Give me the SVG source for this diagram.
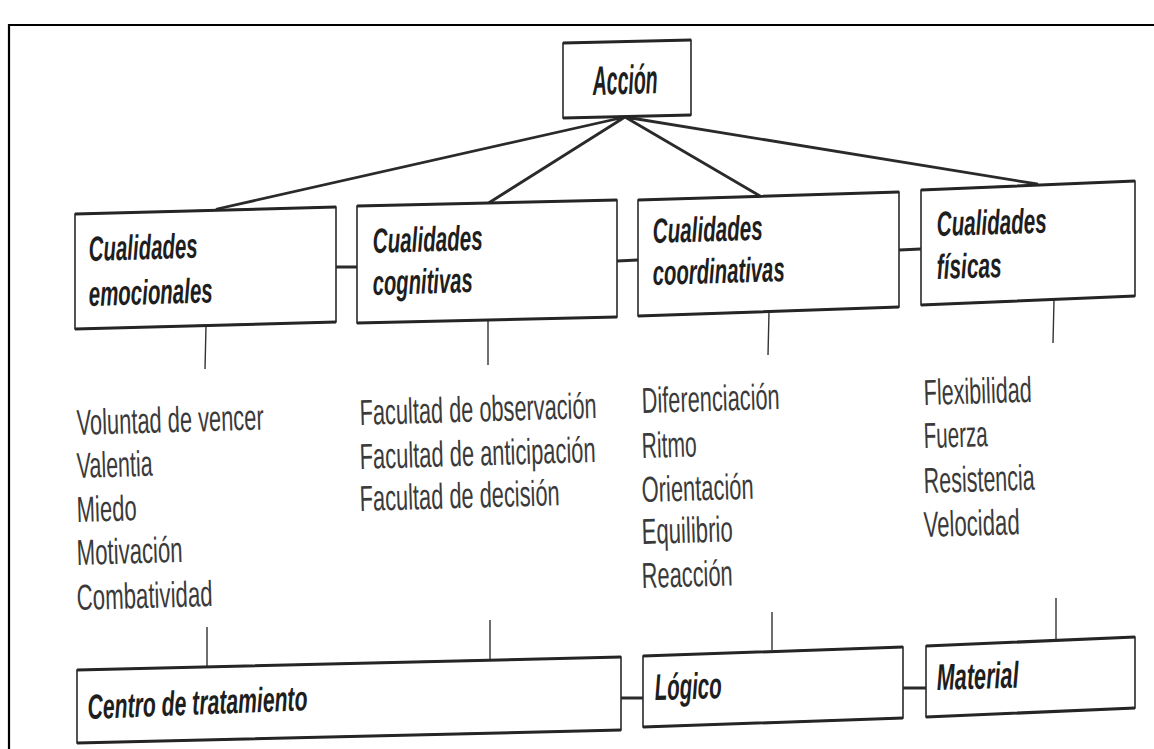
<svg xmlns="http://www.w3.org/2000/svg" width="1154" height="749" viewBox="0 0 1154 749">
<style>
.bx{fill:#fff;stroke:#2a2a2a;stroke-width:1.6}
.ed{stroke:#252525;stroke-width:3;fill:none}
.h{font-family:"Liberation Sans Narrow","Liberation Sans",Arial,sans-serif;font-weight:bold;font-style:italic;fill:#1e1e1e}
.t{font-family:"Liberation Sans Narrow","Liberation Sans",Arial,sans-serif;fill:#3a3a3a;font-size:36px}
.c{stroke:#2a2a2a;stroke-width:2.8;fill:none;stroke-linecap:round}
.v{stroke:#333;stroke-width:1.4;fill:none}
</style>
<rect width="1154" height="749" fill="#fff"/>
<path d="M9 749 V25 H1154" fill="none" stroke="#000" stroke-width="2.2"/>

<g id="connectors">
<path class="c" d="M625 117 L217 209 M625 117 L487 204 M625 117 L760 196 M625 117 L1037 184"/>
<path class="c" d="M336 267 H357 M617 261 L638 260 M899 250 L921 249"/>
<path class="c" d="M621 698 H643 M903 688 H926"/>
<path class="v" d="M206 326 L205 369 M488 320 L488 365 M769 312 L768 355 M1054 300 L1053 343"/>
<path class="v" d="M207 627 V669 M490 620 V659 M772 612 V650 M1056 598 V640"/>
</g>

<g id="accion">
<polygon class="bx" points="563,43 691,40 691,115 563,118"/>
<path class="ed" d="M563 43 L691 40 M563 118 L691 115"/>
<text class="h" x="593" y="95" font-size="41" textLength="65" lengthAdjust="spacingAndGlyphs" transform="rotate(-1.7 593 95)">Acción</text>
</g>

<g id="emocionales">
<polygon class="bx" points="75,214 336,207 336,322 75,329"/>
<path class="ed" d="M75 214 L336 207 M75 329 L336 322"/>
<text class="h" x="89" y="261" font-size="35" textLength="109" lengthAdjust="spacingAndGlyphs" transform="rotate(-1.7 89 261)">Cualidades</text>
<text class="h" x="89" y="306" font-size="35" textLength="124" lengthAdjust="spacingAndGlyphs" transform="rotate(-1.7 89 306)">emocionales</text>
</g>

<g id="cognitivas">
<polygon class="bx" points="357,206 617,200 617,317 357,323"/>
<path class="ed" d="M357 206 L617 200 M357 323 L617 317"/>
<text class="h" x="373" y="253" font-size="35" textLength="110" lengthAdjust="spacingAndGlyphs" transform="rotate(-1.7 373 253)">Cualidades</text>
<text class="h" x="373" y="295" font-size="35" textLength="100" lengthAdjust="spacingAndGlyphs" transform="rotate(-1.7 373 295)">cognitivas</text>
</g>

<g id="coordinativas">
<polygon class="bx" points="638,200 899,192 899,307 638,316"/>
<path class="ed" d="M638 200 L899 192 M638 316 L899 307"/>
<text class="h" x="653" y="243" font-size="35" textLength="110" lengthAdjust="spacingAndGlyphs" transform="rotate(-1.7 653 243)">Cualidades</text>
<text class="h" x="653" y="285" font-size="35" textLength="132" lengthAdjust="spacingAndGlyphs" transform="rotate(-1.7 653 285)">coordinativas</text>
</g>

<g id="fisicas">
<polygon class="bx" points="921,190 1135,181 1135,296 921,305"/>
<path class="ed" d="M921 190 L1135 181 M921 305 L1135 296"/>
<text class="h" x="937" y="236" font-size="35" textLength="110" lengthAdjust="spacingAndGlyphs" transform="rotate(-1.7 937 236)">Cualidades</text>
<text class="h" x="937" y="279" font-size="35" textLength="65" lengthAdjust="spacingAndGlyphs" transform="rotate(-1.7 937 279)">físicas</text>
</g>

<g id="lista-emocionales">
<text class="t" x="77" y="435" textLength="187" lengthAdjust="spacingAndGlyphs" transform="rotate(-1.7 77 435)">Voluntad de vencer</text>
<text class="t" x="77" y="478" textLength="76" lengthAdjust="spacingAndGlyphs" transform="rotate(-1.7 77 478)">Valentia</text>
<text class="t" x="77" y="522" textLength="60" lengthAdjust="spacingAndGlyphs" transform="rotate(-1.7 77 522)">Miedo</text>
<text class="t" x="77" y="565" textLength="106" lengthAdjust="spacingAndGlyphs" transform="rotate(-1.7 77 565)">Motivación</text>
<text class="t" x="77" y="610" textLength="136" lengthAdjust="spacingAndGlyphs" transform="rotate(-1.7 77 610)">Combatividad</text>
</g>

<g id="lista-cognitivas">
<text class="t" x="360" y="425" textLength="237" lengthAdjust="spacingAndGlyphs" transform="rotate(-1.7 360 425)">Facultad de observación</text>
<text class="t" x="360" y="469" textLength="236" lengthAdjust="spacingAndGlyphs" transform="rotate(-1.7 360 469)">Facultad de anticipación</text>
<text class="t" x="360" y="511" textLength="200" lengthAdjust="spacingAndGlyphs" transform="rotate(-1.7 360 511)">Facultad de decisión</text>
</g>

<g id="lista-coordinativas">
<text class="t" x="642" y="413" textLength="138" lengthAdjust="spacingAndGlyphs" transform="rotate(-1.7 642 413)">Diferenciación</text>
<text class="t" x="642" y="458" textLength="55" lengthAdjust="spacingAndGlyphs" transform="rotate(-1.7 642 458)">Ritmo</text>
<text class="t" x="642" y="502" textLength="112" lengthAdjust="spacingAndGlyphs" transform="rotate(-1.7 642 502)">Orientación</text>
<text class="t" x="642" y="544" textLength="91" lengthAdjust="spacingAndGlyphs" transform="rotate(-1.7 642 544)">Equilibrio</text>
<text class="t" x="642" y="588" textLength="91" lengthAdjust="spacingAndGlyphs" transform="rotate(-1.7 642 588)">Reacción</text>
</g>

<g id="lista-fisicas">
<text class="t" x="924" y="405" textLength="108" lengthAdjust="spacingAndGlyphs" transform="rotate(-1.7 924 405)">Flexibilidad</text>
<text class="t" x="924" y="448" textLength="64" lengthAdjust="spacingAndGlyphs" transform="rotate(-1.7 924 448)">Fuerza</text>
<text class="t" x="924" y="493" textLength="111" lengthAdjust="spacingAndGlyphs" transform="rotate(-1.7 924 493)">Resistencia</text>
<text class="t" x="924" y="537" textLength="96" lengthAdjust="spacingAndGlyphs" transform="rotate(-1.7 924 537)">Velocidad</text>
</g>

<g id="centro">
<polygon class="bx" points="77,670 621,657 621,730 77,743"/>
<path class="ed" d="M77 670 L621 657 M77 743 L621 730"/>
<text class="h" x="88" y="719" font-size="35" textLength="220" lengthAdjust="spacingAndGlyphs" transform="rotate(-2.3 88 719)">Centro de tratamiento</text>
</g>

<g id="logico">
<polygon class="bx" points="643,656 903,647 903,718 643,727"/>
<path class="ed" d="M643 656 L903 647 M643 727 L903 718"/>
<text class="h" x="655" y="700" font-size="37" textLength="67" lengthAdjust="spacingAndGlyphs" transform="rotate(-1.7 655 700)">Lógico</text>
</g>

<g id="material">
<polygon class="bx" points="926,646 1135,637 1135,708 926,717"/>
<path class="ed" d="M926 646 L1135 637 M926 717 L1135 708"/>
<text class="h" x="937" y="690" font-size="37" textLength="82" lengthAdjust="spacingAndGlyphs" transform="rotate(-1.7 937 690)">Material</text>
</g>
</svg>
